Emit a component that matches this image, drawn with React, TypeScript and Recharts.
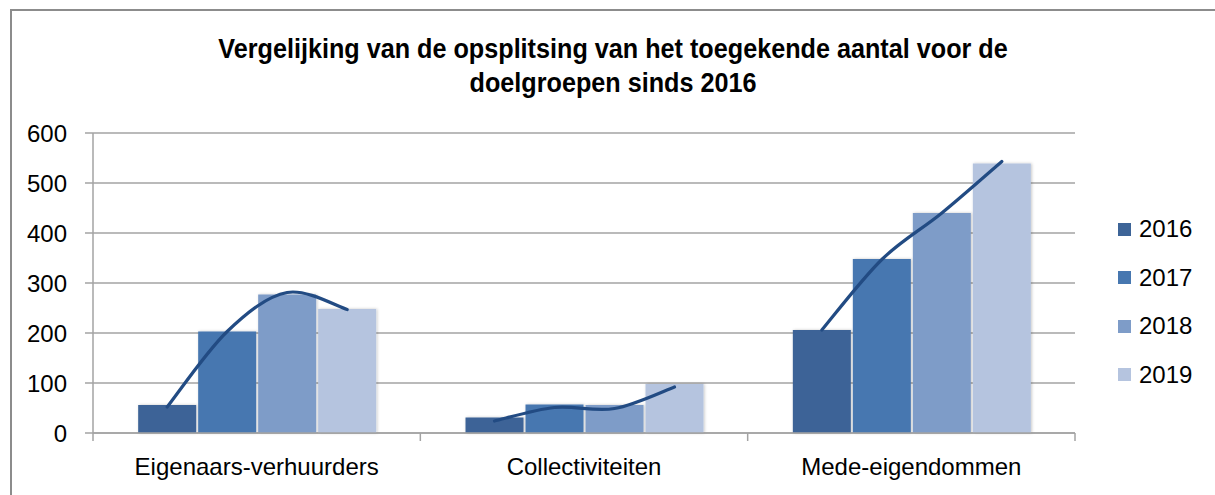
import React from 'react';
import { BarChart, Bar, XAxis, YAxis, CartesianGrid, Legend } from 'recharts';

const categories = ['Eigenaars-verhuurders', 'Collectiviteiten', 'Mede-eigendommen'];
const years = ['2016', '2017', '2018', '2019'];
const values2016 = [56, 31, 206];
const values2017 = [203, 57, 348];
const values2018 = [277, 56, 440];
const values2019 = [248, 98, 539];
// smoothed line over each group, one point per year
const lineEigenaars = [52, 203, 281, 247];
const lineCollectiviteiten = [24, 51, 49, 92];
const lineMede = [206, 347, 440, 543];
const yTicks = [0, 100, 200, 300, 400, 500, 600];
const titleLines = ['Vergelijking van de opsplitsing van het toegekende aantal voor de', 'doelgroepen sinds 2016'];

const colors = ['#3d6497', '#4777b0', '#7e9cc8', '#b5c4df'];
const lineColor = '#224b83';
const gridColor = '#a3a3a3';
const font = '"Liberation Sans", Arial, sans-serif';

const W = 1215;
const H = 495;
const margin = { top: 133, right: 140, bottom: 22, left: 0 };
const yAxisWidth = 93;
const xAxisHeight = 40;
const plotWidth = W - margin.left - margin.right - yAxisWidth;
const BAR_GAP = 2;

const lines = [lineEigenaars, lineCollectiviteiten, lineMede];
const data = categories.map((name, i) => ({
  name,
  y2016: values2016[i],
  y2017: values2017[i],
  y2018: values2018[i],
  y2019: values2019[i],
  line: lines[i],
}));

function smoothPath(pts: { x: number; y: number }[]) {
  let d = `M${pts[0].x},${pts[0].y}`;
  for (let i = 0; i < pts.length - 1; i++) {
    const p0 = pts[Math.max(i - 1, 0)];
    const p1 = pts[i];
    const p2 = pts[i + 1];
    const p3 = pts[Math.min(i + 2, pts.length - 1)];
    const c1x = p1.x + (p2.x - p0.x) / 6;
    const c1y = p1.y + (p2.y - p0.y) / 6;
    const c2x = p2.x - (p3.x - p1.x) / 6;
    const c2y = p2.y - (p3.y - p1.y) / 6;
    d += ` C${c1x},${c1y} ${c2x},${c2y} ${p2.x},${p2.y}`;
  }
  return d;
}

const PlainBar = (props: any) => {
  const { x, y, width, height, fill } = props;
  return <rect x={x} y={y} width={width} height={height} fill={fill} filter="url(#barShadow)" />;
};

// last bar of each group also carries the smoothed line across the group
const LastBarWithLine = (props: any) => {
  const { x, y, width, height, fill, payload } = props;
  const unit = payload.y2019 ? height / payload.y2019 : 0;
  const base = y + height;
  const n = payload.line.length;
  const pts = payload.line.map((v: number, k: number) => ({
    x: x + width / 2 - (n - 1 - k) * (width + BAR_GAP),
    y: base - v * unit,
  }));
  return (
    <g>
      <rect x={x} y={y} width={width} height={height} fill={fill} filter="url(#barShadow)" />
      <path d={smoothPath(pts)} fill="none" stroke={lineColor} strokeWidth={3.2} strokeLinecap="round" />
    </g>
  );
};

const CategoryTick = (props: any) => {
  const { x, y, payload, index } = props;
  const half = plotWidth / categories.length / 2;
  return (
    <g>
      <line x1={x - half} x2={x - half} y1={y} y2={y + 8} stroke={gridColor} strokeWidth={1.5} />
      {index === categories.length - 1 && (
        <line x1={x + half} x2={x + half} y1={y} y2={y + 8} stroke={gridColor} strokeWidth={1.5} />
      )}
      <text x={x} y={y + 42} textAnchor="middle" fontSize={24} fill="#000" fontFamily={font}>
        {payload.value}
      </text>
    </g>
  );
};

const renderLegend = (props: any) => (
  <div style={{ fontFamily: font, fontSize: 24, color: '#000' }}>
    {(props.payload || []).map((e: any) => (
      <div key={e.value} style={{ height: 48.5, display: 'flex', alignItems: 'center' }}>
        <span style={{ width: 13, height: 13, background: e.color, marginRight: 8, display: 'inline-block' }} />
        <span>{e.value}</span>
      </div>
    ))}
  </div>
);

export default function App() {
  return (
    <div style={{ position: 'relative', width: W, height: H, overflow: 'hidden', background: '#fff' }}>
      <style>{'body{margin:0;overflow:hidden}'}</style>
      <div
        style={{
          position: 'absolute',
          left: 10,
          top: 9,
          width: 1300,
          height: 600,
          borderTop: '2px solid #8c8c8c',
          borderLeft: '2px solid #8c8c8c',
        }}
      />
      <svg width={W} height={110} style={{ position: 'absolute', left: 0, top: 0 }}>
        <defs>
          <filter id="barShadow" x="-10%" y="-10%" width="130%" height="130%">
            <feDropShadow dx="1" dy="0" stdDeviation="1.5" floodColor="#000" floodOpacity="0.22" />
          </filter>
        </defs>
        {titleLines.map((t, i) => (
          <text
            key={t}
            transform={`translate(613, ${58 + i * 34}) scale(0.9, 1)`}
            textAnchor="middle"
            fontFamily={font}
            fontWeight="bold"
            fontSize={28}
            fill="#000"
          >
            {t}
          </text>
        ))}
      </svg>
      <div style={{ position: 'absolute', left: 0, top: 0 }}>
        <BarChart
          width={W}
          height={H}
          data={data}
          margin={margin}
          barCategoryGap="13.8%"
          barGap={BAR_GAP}
          style={{ fontFamily: font }}
        >
          <CartesianGrid vertical={false} stroke={gridColor} strokeWidth={1.5} />
          <XAxis
            dataKey="name"
            height={xAxisHeight}
            axisLine={{ stroke: gridColor, strokeWidth: 1.5 }}
            tickLine={false}
            tickSize={0}
            tickMargin={0}
            tick={<CategoryTick />}
            interval={0}
          />
          <YAxis
            width={yAxisWidth}
            domain={[0, 600]}
            ticks={yTicks}
            interval={0}
            axisLine={{ stroke: gridColor, strokeWidth: 1.5 }}
            tickLine={{ stroke: gridColor, strokeWidth: 1.5 }}
            tickSize={8}
            tickMargin={18}
            tick={{ fontSize: 24, fill: '#000', fontFamily: font }}
          />
          <Legend
            layout="vertical"
            align="center"
            verticalAlign="middle"
            content={renderLegend}
            wrapperStyle={{ left: 1118, top: 205, width: 95 }}
          />
          <Bar dataKey="y2016" name={years[0]} fill={colors[0]} shape={<PlainBar />} isAnimationActive={false} />
          <Bar dataKey="y2017" name={years[1]} fill={colors[1]} shape={<PlainBar />} isAnimationActive={false} />
          <Bar dataKey="y2018" name={years[2]} fill={colors[2]} shape={<PlainBar />} isAnimationActive={false} />
          <Bar dataKey="y2019" name={years[3]} fill={colors[3]} shape={<LastBarWithLine />} isAnimationActive={false} />
        </BarChart>
      </div>
    </div>
  );
}
